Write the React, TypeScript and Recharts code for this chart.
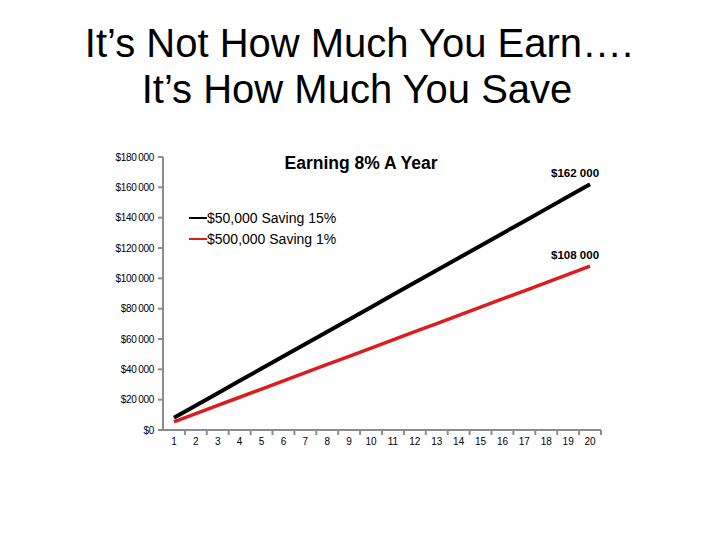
import React from 'react';
import { LineChart, Line, XAxis, YAxis, Legend } from 'recharts';

const years = ['1','2','3','4','5','6','7','8','9','10','11','12','13','14','15','16','17','18','19','20'];
const saving15 = [8100, 16200, 24300, 32400, 40500, 48600, 56700, 64800, 72900, 81000, 89100, 97200, 105300, 113400, 121500, 129600, 137700, 145800, 153900, 162000];
const saving1 = [5400, 10800, 16200, 21600, 27000, 32400, 37800, 43200, 48600, 54000, 59400, 64800, 70200, 75600, 81000, 86400, 91800, 97200, 102600, 108000];
const yTicks = [0, 20000, 40000, 60000, 80000, 100000, 120000, 140000, 160000, 180000];
const seriesNames = ['$50,000 Saving 15%', '$500,000 Saving 1%'];
const titleLines = ['It\u2019s Not How Much You Earn\u2026.', 'It\u2019s How Much You Save'];
const chartTitle = 'Earning 8% A Year';

const data = years.map((y, i) => ({ year: y, a: saving15[i], b: saving1[i] }));

const FONT = '"Liberation Sans", Arial, sans-serif';
const AXIS = '#8c8c8c';

const fmt = (v: number) => '$' + String(v).replace(/\B(?=(\d{3})+(?!\d))/g, '\u2009');
const fmtLabel = (v: number) => '$' + String(v).replace(/\B(?=(\d{3})+(?!\d))/g, ' ');

const XTick = (props: any) => {
  const { x, y, payload } = props;
  const half = payload && payload.offset ? payload.offset : 11;
  return (
    <g>
      <line x1={x + half} x2={x + half} y1={y - 8} y2={y - 3} stroke={AXIS} strokeWidth={2} />
      <text x={x} y={y + 7} textAnchor="middle" fontSize={10} fontFamily={FONT} fill="#000">
        {payload.value}
      </text>
    </g>
  );
};

const makeEndLabel = (last: number) => (props: any) => {
  const { x, y, index, value } = props;
  if (index !== last) return null;
  return (
    <text x={x - 15} y={y - 7} textAnchor="middle" fontSize={11.5} fontWeight="bold" fontFamily={FONT} fill="#000">
      {fmtLabel(value)}
    </text>
  );
};

const LegendContent = (props: any) => {
  const { payload } = props;
  return (
    <div style={{ fontFamily: FONT }}>
      {(payload || []).map((p: any, i: number) => (
        <div key={i} style={{ display: 'flex', alignItems: 'center', height: 21 }}>
          <div style={{ width: 18, height: 2, background: p.color, marginRight: 0 }} />
          <span style={{ fontSize: 14, color: '#000', whiteSpace: 'nowrap' }}>{p.value}</span>
        </div>
      ))}
    </div>
  );
};

export default function App() {
  return (
    <div style={{ position: 'absolute', left: 0, top: 0, width: 720, height: 540, background: '#fff' }}>
      <LineChart width={720} height={540} data={data} margin={{ top: 157, right: 119, bottom: 80, left: 103 }}>
        <XAxis
          dataKey="year"
          scale="band"
          height={30}
          axisLine={{ stroke: AXIS, strokeWidth: 2 }}
          tickLine={false}
          tick={<XTick />}
          interval={0}
        />
        <YAxis
          width={60}
          domain={[0, 180000]}
          ticks={yTicks}
          tickFormatter={fmt}
          axisLine={{ stroke: AXIS, strokeWidth: 2 }}
          tickLine={{ stroke: AXIS, strokeWidth: 2 }}
          tickSize={5}
          tickMargin={4}
          tick={{ fontSize: 10, fontFamily: FONT, fill: '#000', letterSpacing: -0.3 }}
        />
        <Legend
          verticalAlign="middle"
          align="center"
          layout="vertical"
          wrapperStyle={{ left: 189, top: 207, width: 200 }}
          content={<LegendContent />}
        />
        <Line
          dataKey="a"
          name={seriesNames[0]}
          stroke="#000000"
          strokeWidth={4}
          dot={false}
          isAnimationActive={false}
          label={makeEndLabel(years.length - 1)}
        />
        <Line
          dataKey="b"
          name={seriesNames[1]}
          stroke="#dc1d1d"
          strokeWidth={3.5}
          dot={false}
          isAnimationActive={false}
          label={makeEndLabel(years.length - 1)}
        />
      </LineChart>
      <svg width={720} height={540} style={{ position: 'absolute', left: 0, top: 0, pointerEvents: 'none' }}>
        <text x={359} y={57} textAnchor="middle" fontSize={40} fontFamily={FONT} fill="#000">{titleLines[0]}</text>
        <text x={357} y={103} textAnchor="middle" fontSize={40} fontFamily={FONT} fill="#000">{titleLines[1]}</text>
        <text x={361} y={169} textAnchor="middle" fontSize={17.5} fontWeight="bold" fontFamily={FONT} fill="#000">{chartTitle}</text>
      </svg>
    </div>
  );
}
